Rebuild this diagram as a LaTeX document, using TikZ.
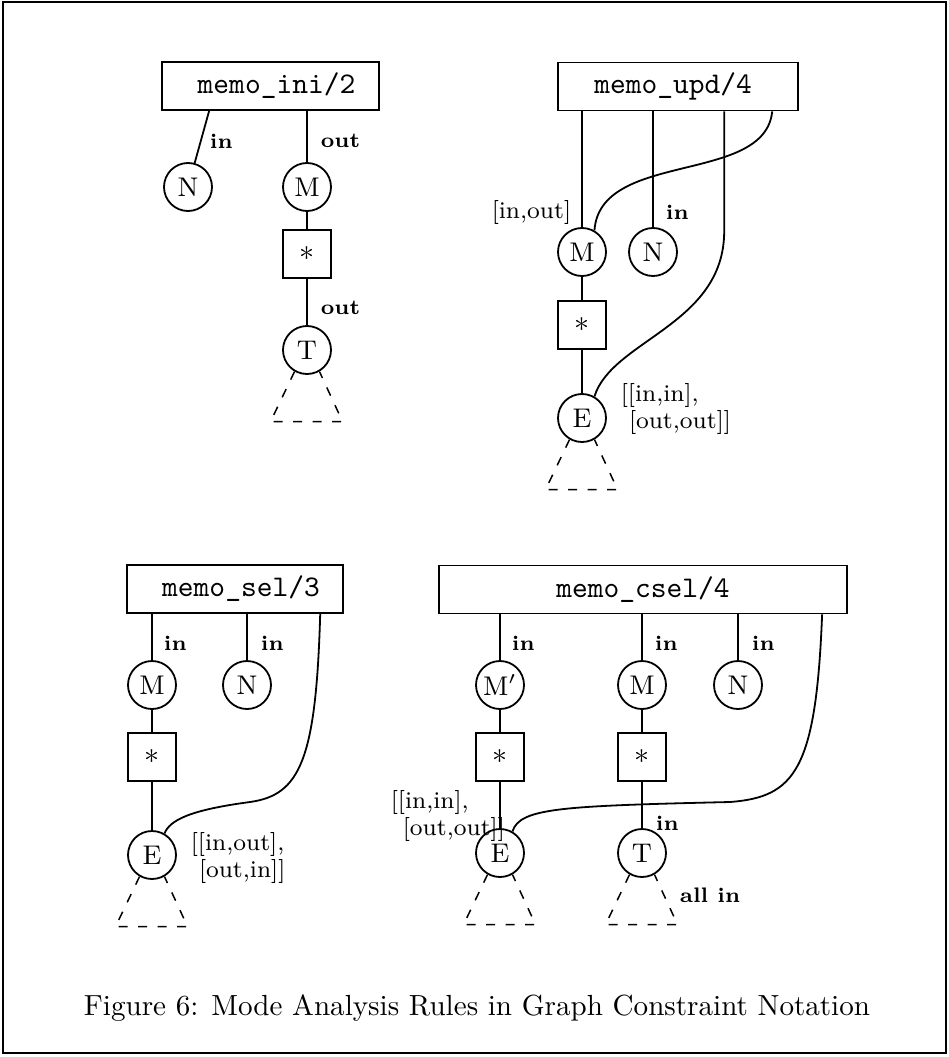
\documentclass[tikz,border=0pt]{standalone}
\usepackage{tikz}
\usetikzlibrary{positioning}
\newcommand{\openTree}[1]{\draw[subtree] (#1.-120) -- ++(-24,50) -- ++(72,0) -- (#1.-60);}

\begin{document}
\begin{tikzpicture}[
  x=0.3333pt, y=-0.3333pt,
  line width=0.6pt,
  pred/.style={draw, font=\ttfamily, minimum height=16pt, inner sep=0pt},
  var/.style={draw, circle, minimum size=16pt, inner sep=0pt, font=\small},
  clos/.style={draw, minimum size=16pt, inner sep=0pt},
  mode/.style={font=\scriptsize\bfseries, anchor=west, inner sep=0pt},
  modes/.style={font=\fontsize{8}{7}\selectfont, align=left, anchor=north west, inner sep=0pt},
  subtree/.style={line width=0.5pt, dash pattern=on 3pt off 3.5pt},
]
\useasboundingbox (0,0) rectangle (948,1057);
\draw[line width=0.8pt] (3,2) rectangle (946,1053);
% memo_ini/2
\node[pred, minimum width=72.3pt] (ini) at (270.5,86) {\hspace*{4pt}memo\_ini/2};
\node[var] (Na) at (188,187) {N};
\node[var] (Ma) at (307,187) {M};
\node[clos] (sa) at (307,254) {$*$};
\node[var] (Ta) at (307,350) {T};
\draw ([xshift=16pt]ini.south west) -- (Na);
\draw (ini.south -| Ma) -- (Ma);
\draw (Ma) -- (sa);
\draw (sa) -- (Ta);
\openTree{Ta}
\node[mode] at (209,141) {in};
\node[mode] at (320,141) {out};
\node[mode] at (320,308) {out};
% memo_upd/4
\node[pred, minimum width=80pt] (upd) at (678,86.5) {memo\_upd/4\hspace*{3.3pt}};
\node[var] (Mb) at (582,252) {M};
\node[var] (Nb) at (653,252) {N};
\node[clos] (sb) at (582,325) {$*$};
\node[var] (Eb) at (582,418) {E};
\draw (upd.south -| Mb) -- (Mb);
\draw (upd.south -| Nb) -- (Nb);
\draw ([xshift=55.7pt]upd.south west) -- ++(0,120) .. controls (724,325) and (612,340) .. (Eb.60);
\draw ([xshift=71.7pt]upd.south west) .. controls (765,185) and (600,150) .. (Mb.60);
\draw (Mb) -- (sb);
\draw (sb) -- (Eb);
\openTree{Eb}
\node[font=\footnotesize, anchor=east, inner sep=0pt] at (572,212) {[in,out]};
\node[mode] at (665,212) {in};
\node[modes] at (620,383) {[[in,in],\\\hspace*{2.7pt}[out,out]]};
% memo_sel/3
\node[pred, minimum width=72pt] (sel) at (235,589) {\hspace*{4pt}memo\_sel/3};
\node[var] (Mc) at (152,685) {M};
\node[var] (Nc) at (247,685) {N};
\node[clos] (sc) at (152,757) {$*$};
\node[var] (Ec) at (152,855) {E};
\draw (sel.south -| Mc) -- (Mc);
\draw (sel.south -| Nc) -- (Nc);
\draw ([xshift=64.7pt]sel.south west) .. controls (316,760) and (300,795) .. (250,802) .. controls (190,810) and (170,820) .. (Ec.60);
\draw (Mc) -- (sc);
\draw (sc) -- (Ec);
\openTree{Ec}
\node[mode] at (163,643) {in};
\node[mode] at (260,643) {in};
\node[modes] at (190,832) {[[in,out],\\\hspace*{2.7pt}[out,in]]};
% memo_csel/4
\node[pred, minimum width=136pt] (csel) at (643,589.5) {memo\_csel/4};
\node[var] (Md1) at (500,685) {M$'$};
\node[var] (Md) at (642,685) {M};
\node[var] (Nd) at (738,685) {N};
\node[clos] (sd1) at (500,757) {$*$};
\node[clos] (sd) at (642,757) {$*$};
\node[var] (Ed) at (500,853) {E};
\node[var] (Td) at (642,853) {T};
\draw (csel.south -| Md1) -- (Md1);
\draw (csel.south -| Md) -- (Md);
\draw (csel.south -| Nd) -- (Nd);
\draw ([xshift=128pt]csel.south west) .. controls (816,770) and (795,797) .. (730,802) .. controls (560,806) and (520,808) .. (Ed.60);
\draw (Md1) -- (sd1);
\draw (sd1) -- (Ed);
\draw (Md) -- (sd);
\draw (sd) -- (Td);
\openTree{Ed}
\openTree{Td}
\node[mode] at (511,643) {in};
\node[mode] at (654,643) {in};
\node[mode] at (751,643) {in};
\node[mode] at (655,823) {in};
\node[mode] at (679,895) {all in};
\node[modes] at (390,790) {[[in,in],\\\hspace*{4pt}[out,out]]};
% caption
\node[anchor=base, font=\fontsize{9.7}{12}\selectfont] (cap) at (477,1015) {Figure 6: Mode Analysis Rules in Graph Constraint Notation};
\end{tikzpicture}
\end{document}
